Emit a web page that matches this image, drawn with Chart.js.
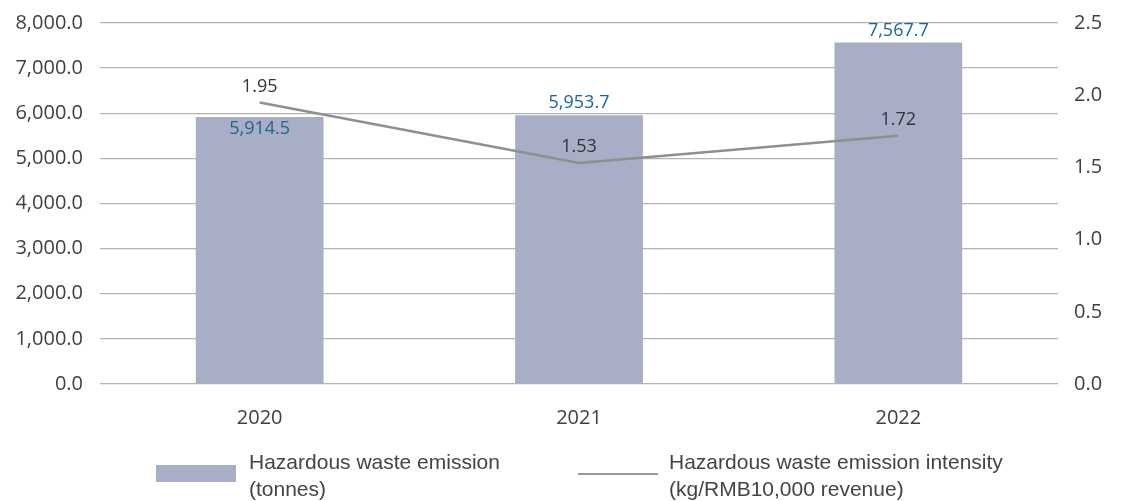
<!DOCTYPE html>
<html>
<head>
<meta charset="utf-8">
<script src="https://cdn.jsdelivr.net/npm/chart.js@4"></script>
<style>
  body { margin: 0; background: #fff; }
  #wrap { position: relative; width: 1121px; height: 501px; }
  .leg { position: absolute; font-family: "Liberation Sans", Arial, sans-serif; font-size: 21px; line-height: 27px; color: #444; white-space: nowrap; }
  .sw { position: absolute; }
</style>
</head>
<body>
<div id="wrap">
  <canvas id="myChart" width="1121" height="501"></canvas>
  <div class="sw" style="left:156px;top:465px;width:80px;height:17px;background:#a7aec6"></div>
  <div class="leg" style="left:249px;top:448px">Hazardous waste emission<br>(tonnes)</div>
  <div class="sw" style="left:578px;top:473px;width:80px;height:2px;background:#999"></div>
  <div class="leg" style="left:669px;top:448px">Hazardous waste emission intensity<br>(kg/RMB10,000 revenue)</div>
</div>
<script>
const years = ['2020', '2021', '2022']
const emission = [5914.5, 5953.7, 7567.7]
const intensity = [1.95, 1.53, 1.72]
// where each value label sits: 'in' = inside the bar top, 'out' = above
const emissionLabelPos = ['in', 'out', 'out']

const fmt1 = v => v.toLocaleString('en-US', {minimumFractionDigits: 1, maximumFractionDigits: 1})

const valueLabels = {
    id: 'valueLabels',
    afterDatasetsDraw(chart) {
        const ctx = chart.ctx
        ctx.save()
        ctx.font = '18px "Open Sans", sans-serif'
        ctx.textAlign = 'center'
        ctx.textBaseline = 'middle'
        chart.getDatasetMeta(0).data.forEach((bar, i) => {
            ctx.fillStyle = '#1f6391'
            const y = emissionLabelPos[i] === 'in' ? bar.y + 12 : bar.y - 12
            ctx.fillText(fmt1(emission[i]), bar.x, y)
        })
        chart.getDatasetMeta(1).data.forEach((pt, i) => {
            ctx.fillStyle = '#333'
            ctx.fillText(intensity[i].toFixed(2), pt.x, pt.y - 16)
        })
        ctx.restore()
    }
}

const tickFont = { family: 'Open Sans', size: 20 }

// fixed axis sizes so the plot area lands where the original has it
const fitY = w => s => { s.width = w; s.paddingTop = 0; s.paddingBottom = 0 }

const ctx = document.getElementById('myChart').getContext('2d')
const myChart = new Chart(ctx, {
    data: {
        labels: years,
        datasets: [{
            type: 'bar',
            label: 'Hazardous waste emission (tonnes)',
            data: emission,
            backgroundColor: '#a7aec6',
            barPercentage: 0.4,
            categoryPercentage: 1,
            yAxisID: 'y',
            order: 2
        }, {
            type: 'line',
            label: 'Hazardous waste emission intensity (kg/RMB10,000 revenue)',
            data: intensity,
            borderColor: '#8f8f8f',
            borderWidth: 2.5,
            pointRadius: 0,
            tension: 0,
            yAxisID: 'y1',
            order: 1
        }]
    },
    options: {
        responsive: false,
        animation: false,
        layout: { padding: { top: 23, left: 0, right: 0, bottom: 0 } },
        plugins: { legend: { display: false }, tooltip: { enabled: false } },
        scales: {
            x: {
                grid: { display: false, drawTicks: false },
                border: { display: false },
                ticks: { color: '#404040', font: tickFont, padding: 22 },
                afterFit: s => { s.height = 117 }
            },
            y: {
                position: 'left',
                min: 0, max: 8000,
                grid: { color: '#b4b4b4', lineWidth: 1.3, drawTicks: false },
                border: { display: false },
                ticks: { stepSize: 1000, color: '#404040', font: tickFont, padding: 17, callback: v => fmt1(v) },
                afterFit: fitY(100)
            },
            y1: {
                position: 'right',
                min: 0, max: 2.5,
                grid: { display: false, drawTicks: false },
                border: { display: false },
                ticks: { stepSize: 0.5, color: '#404040', font: tickFont, padding: 16, callback: v => v.toFixed(1) },
                afterFit: fitY(63)
            }
        }
    },
    plugins: [valueLabels]
})
</script>
</body>
</html>
